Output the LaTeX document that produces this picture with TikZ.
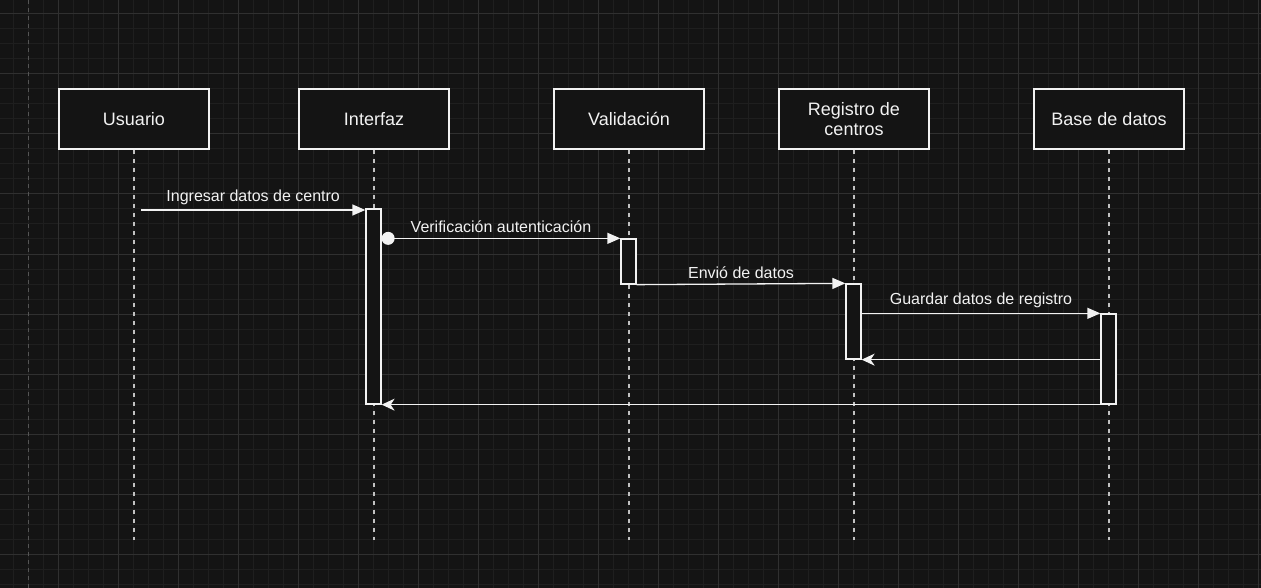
\documentclass[tikz,border=0pt]{standalone}
\usepackage{fontspec}
\setmainfont{Liberation Sans}
\usetikzlibrary{arrows.meta}

\definecolor{bgdark}{HTML}{141414}
\definecolor{gridminor}{HTML}{1F1F1F}
\definecolor{gridmajor}{HTML}{303030}
\definecolor{pageline}{HTML}{555555}
\definecolor{inkwhite}{HTML}{F2F2F2}

\tikzset{
  actor/.style={draw=inkwhite, fill=bgdark, line width=1.3pt, minimum width=150pt,
    minimum height=60pt, align=center, text=inkwhite, font=\fontsize{18}{20}\selectfont},
  lifeline/.style={draw=inkwhite!80!black, line width=1.5pt, dash pattern=on 4pt off 5pt},
  activ/.style={draw=inkwhite, fill=bgdark, line width=1.3pt, minimum width=15pt, inner sep=0pt},
  msg/.style={draw=inkwhite, line width=1.3pt, -{Triangle[length=13pt, width=11pt]}},
  reply/.style={draw=inkwhite, line width=1.3pt, -{Stealth[length=13pt, width=12pt, inset=4pt]}},
  msglabel/.style={text=inkwhite, font=\fontsize{16}{18}\selectfont, inner sep=5pt}
}

\begin{document}
\begin{tikzpicture}[x=1pt, y=-1pt]
\useasboundingbox[fill=bgdark] (0,0) rectangle (1261,588);

% grid
\foreach \x in {-2,13,...,1261} \draw[gridminor, line width=1pt] (\x,0) -- (\x,588);
\foreach \y in {-1,14,...,588} \draw[gridminor, line width=1pt] (0,\y) -- (1261,\y);
\foreach \x in {58,118,...,1261} \draw[gridmajor, line width=1pt] (\x,0) -- (\x,588);
\foreach \y in {14,74,...,588} \draw[gridmajor, line width=1pt] (0,\y) -- (1261,\y);
\draw[pageline, line width=1pt, dash pattern=on 4pt off 4pt] (28,0) -- (28,588);

% participants
\node[actor] (usr) at (134,119) {Usuario};
\node[actor] (itf) at (374,119) {Interfaz};
\node[actor] (val) at (629,119) {Validación};
\node[actor] (reg) at (854,119) {Registro de\\centros};
\node[actor] (bdd) at (1109,119) {Base de datos};

\coordinate (bottom) at (0,540);
\foreach \p in {usr,itf,val,reg,bdd}
  \draw[lifeline] (\p.south) -- (\p.south |- bottom);

% activations
\node[activ, minimum height=195pt] (actI) at (373.5,306.5) {};
\node[activ, minimum height=45pt] (actV) at (628.5,261.5) {};
\node[activ, minimum height=75pt] (actR) at (853.5,321.5) {};
\node[activ, minimum height=90pt] (actB) at (1108.5,359) {};

% messages
\coordinate (m1) at (141,210);
\draw[msg] (m1) -- (m1 -| actI.west) node[msglabel, midway, above] {Ingresar datos de centro};
\draw[msg, {Circle[length=13pt]}-{Triangle[length=13pt, width=11pt]}] (actI.east |- actV.north)
  -- (actV.north west) node[msglabel, midway, above] {Verificación autenticación};
\draw[msg] (actV.south east) -- (actR.north west) node[msglabel, midway, above] {Envió de datos};
\draw[msg] (actR.east |- actB.north) -- (actB.north west) node[msglabel, midway, above] {Guardar datos de registro};
\draw[reply] (actB.west |- actR.south) -- (actR.south east);
\draw[reply] (actB.south east) -- (actI.south east);

\end{tikzpicture}
\end{document}
